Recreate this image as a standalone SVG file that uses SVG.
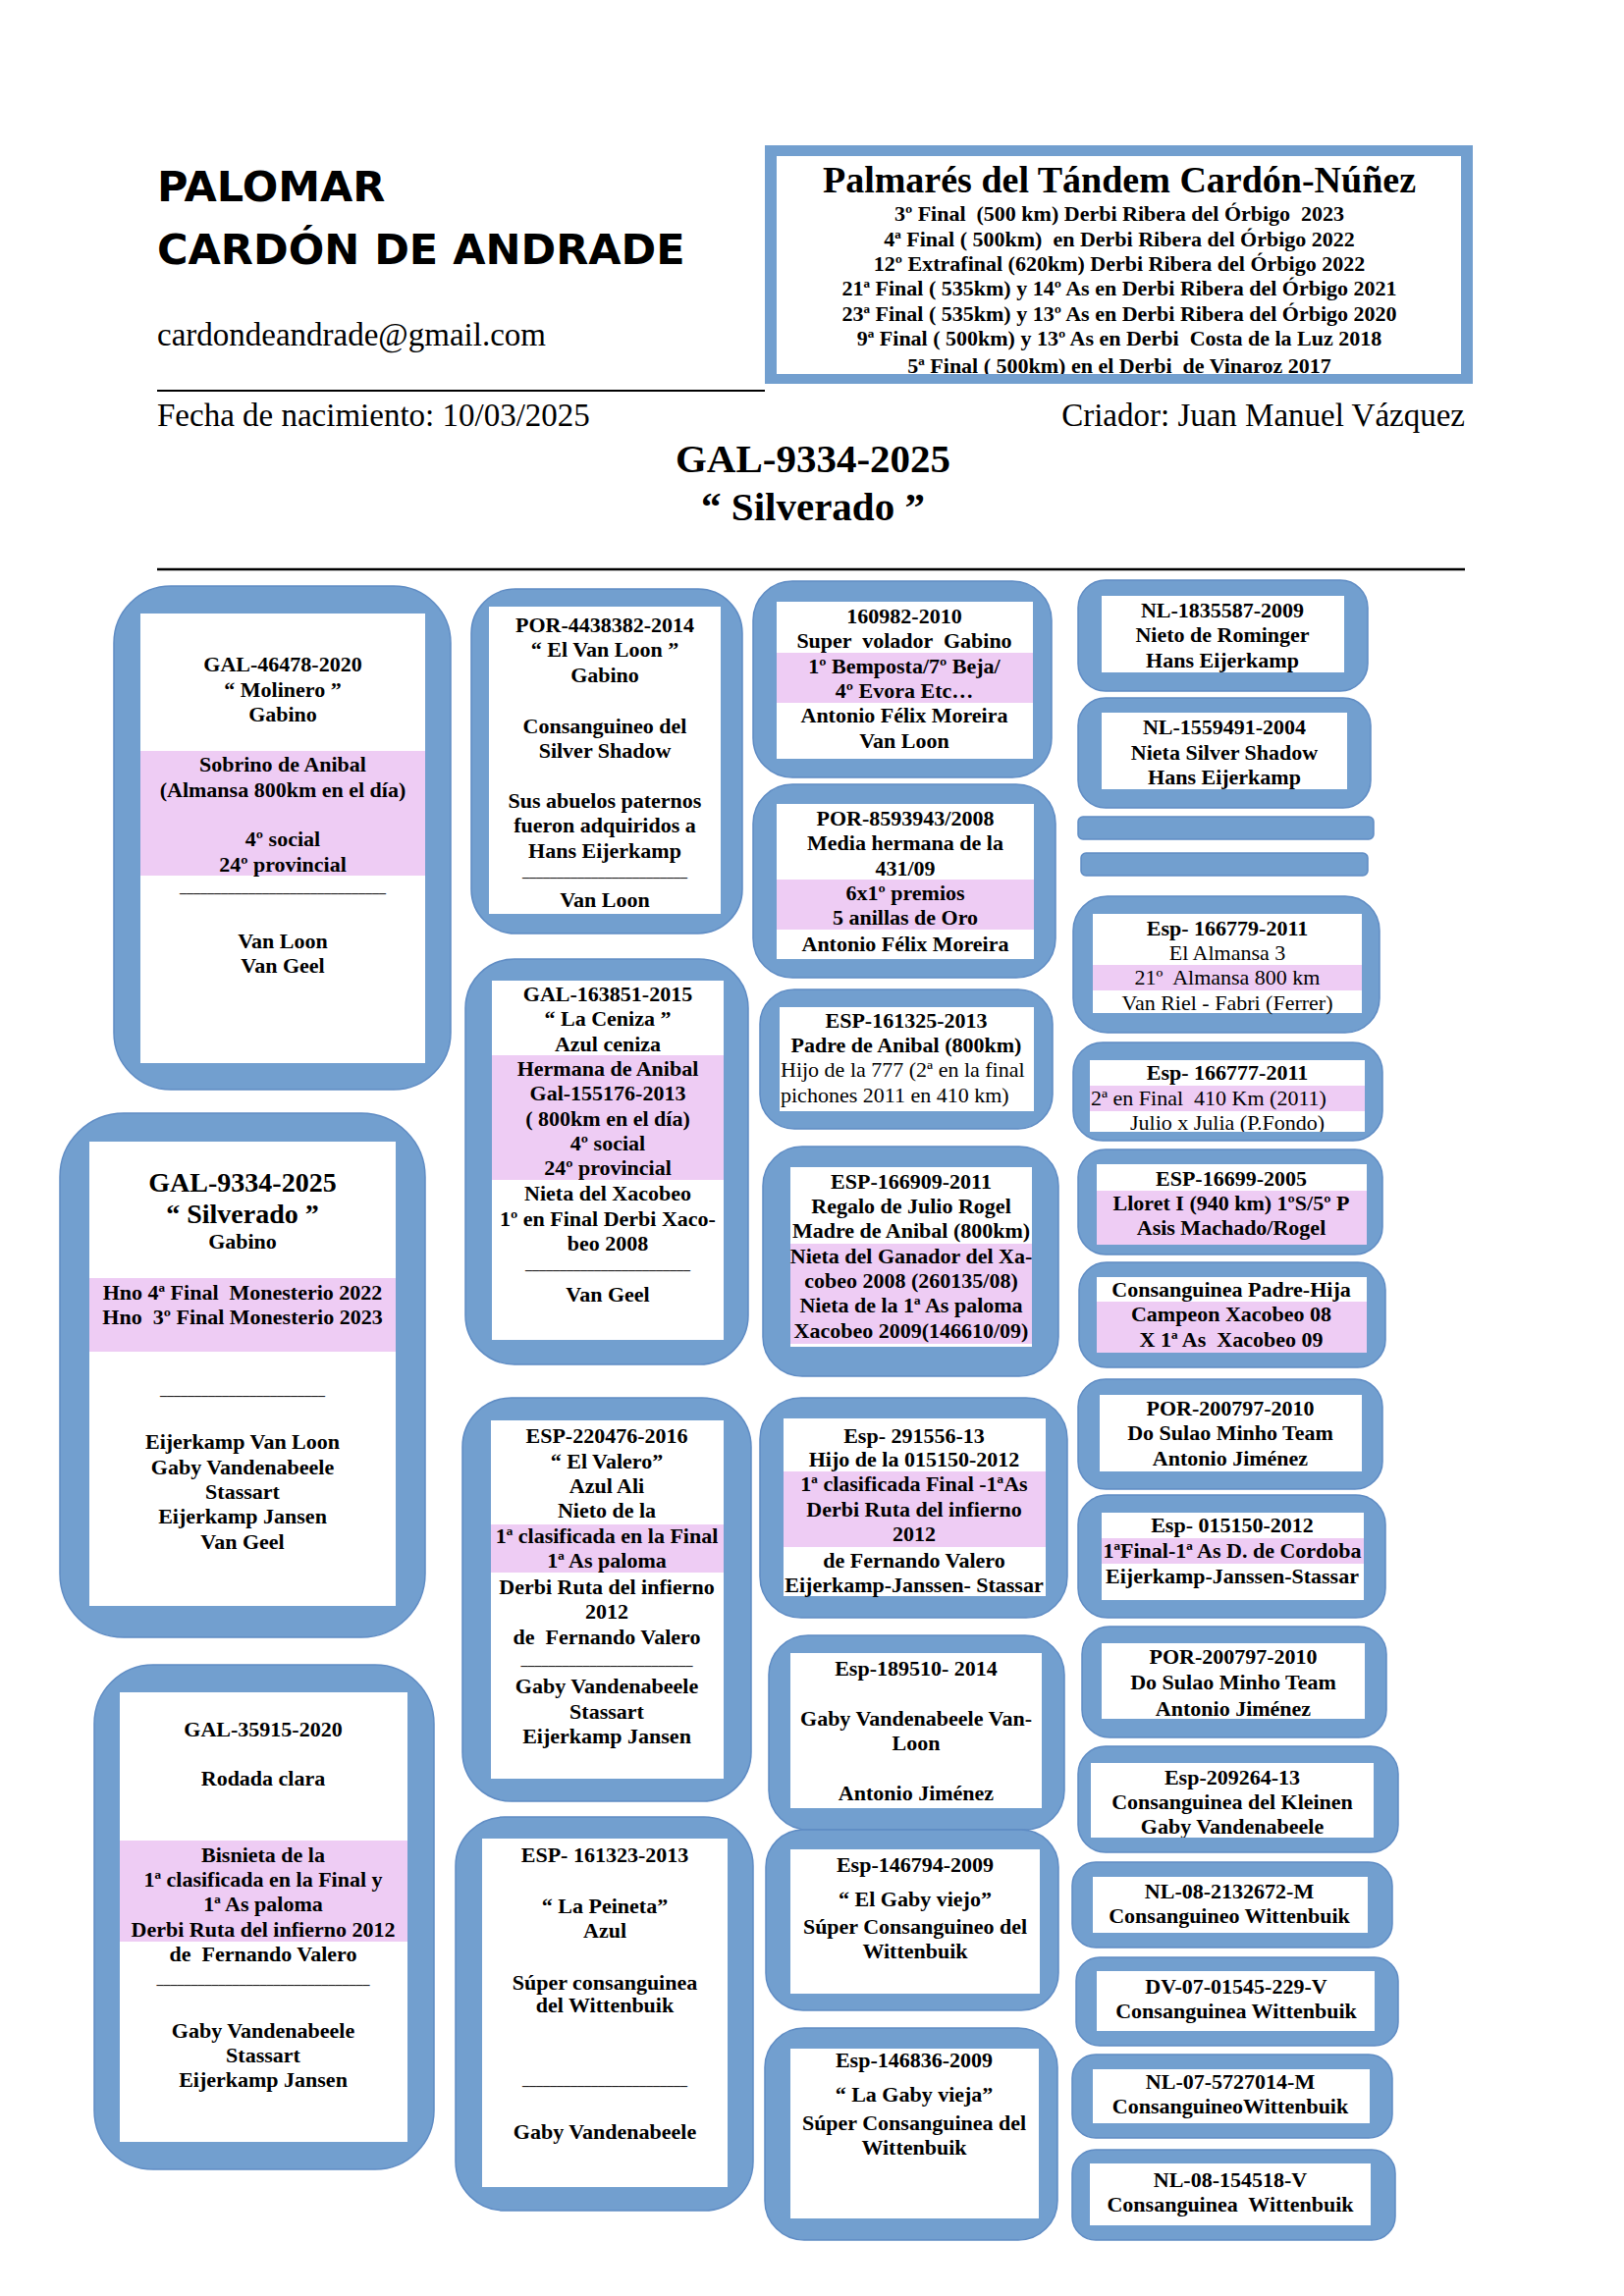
<svg xmlns="http://www.w3.org/2000/svg" width="1654" height="2339" viewBox="0 0 1654 2339">
<style>
.ob{fill:#729fcf;stroke:#5f8cc4;stroke-width:1.5}
.in{fill:#ffffff}
.pk{fill:#eeccf4}
.t{font-family:"Liberation Serif","Times New Roman",serif;font-weight:bold;font-size:22px;text-anchor:middle;fill:#000;white-space:pre}
.r{font-weight:normal}
.l{text-anchor:start}
.big{font-size:28px}
.u{font-size:14px;fill:#222}
.hd{font-family:"DejaVu Sans","Liberation Sans",sans-serif;font-weight:bold;font-size:43px;fill:#000}
.sr{font-family:"Liberation Serif","Times New Roman",serif;font-size:33px;fill:#000;white-space:pre}
</style>
<defs>
<clipPath id="cp-palm"><rect x="791" y="159" width="697" height="222"/></clipPath>
<clipPath id="cp-n21"><rect x="1110" y="1080" width="280" height="73"/></clipPath>
<clipPath id="cp-n27"><rect x="1111" y="1796" width="288" height="76"/></clipPath>
</defs>
<rect width="1654" height="2339" fill="#fff"/>

<g id="header">
<text class="hd" x="160" y="205">PALOMAR</text>
<text class="hd" x="160" y="269">CARDÓN DE ANDRADE</text>
<text class="sr" x="160" y="352">cardondeandrade@gmail.com</text>
<line x1="160" y1="398" x2="779" y2="398" stroke="#000" stroke-width="2"/>
<text class="sr" x="160" y="434">Fecha de nacimiento: 10/03/2025</text>
<text class="sr" x="1492" y="434" text-anchor="end">Criador: Juan Manuel Vázquez</text>
<text class="t" x="828" y="481" style="font-size:41px">GAL-9334-2025</text>
<text class="t" x="828" y="530" style="font-size:41px">“ Silverado ”</text>
<line x1="160" y1="580" x2="1492" y2="580" stroke="#000" stroke-width="2.5"/>
</g>

<g id="palmares">
<rect x="779" y="148" width="721" height="243" fill="#729fcf"/>
<rect x="791" y="159" width="697" height="222" fill="#fff"/>
<g clip-path="url(#cp-palm)">
<text class="t" x="1140" y="196" style="font-size:38px">Palmarés del Tándem Cardón-Núñez</text>
<text class="t" x="1140" y="225">3º Final  (500 km) Derbi Ribera del Órbigo  2023</text>
<text class="t" x="1140" y="251">4ª Final ( 500km)  en Derbi Ribera del Órbigo 2022</text>
<text class="t" x="1140" y="276">12º Extrafinal (620km) Derbi Ribera del Órbigo 2022</text>
<text class="t" x="1140" y="301">21ª Final ( 535km) y 14º As en Derbi Ribera del Órbigo 2021</text>
<text class="t" x="1140" y="327">23ª Final ( 535km) y 13º As en Derbi Ribera del Órbigo 2020</text>
<text class="t" x="1140" y="352">9ª Final ( 500km) y 13º As en Derbi  Costa de la Luz 2018</text>
<text class="t" x="1140" y="380">5ª Final ( 500km) en el Derbi  de Vinaroz 2017</text>
</g>
</g>

<g id="n-gal46478">
<rect class="ob" x="116" y="597" width="343" height="513" rx="58"/>
<rect class="in" x="143" y="625" width="290" height="458"/>
<rect class="pk" x="143" y="765" width="290" height="127"/>
<text class="t" x="288" y="684">GAL-46478-2020</text>
<text class="t" x="288" y="710">“ Molinero ”</text>
<text class="t" x="288" y="735">Gabino</text>
<text class="t" x="288" y="786">Sobrino de Anibal</text>
<text class="t" x="288" y="812">(Almansa 800km en el día)</text>
<text class="t" x="288" y="862">4º social</text>
<text class="t" x="288" y="888">24º provincial</text>
<text class="t u" x="288" y="909">______________________________</text>
<text class="t" x="288" y="966">Van Loon</text>
<text class="t" x="288" y="991">Van Geel</text>
</g>

<g id="n-gal9334">
<rect class="ob" x="61" y="1134" width="372" height="534" rx="65"/>
<rect class="in" x="91" y="1163" width="312" height="473"/>
<rect class="pk" x="91" y="1302" width="312" height="75"/>
<text class="t big" x="247" y="1214">GAL-9334-2025</text>
<text class="t big" x="247" y="1246">“ Silverado ”</text>
<text class="t" x="247" y="1272">Gabino</text>
<text class="t" x="247" y="1324">Hno 4ª Final  Monesterio 2022</text>
<text class="t" x="247" y="1349">Hno  3º Final Monesterio 2023</text>
<text class="t u" x="247" y="1421">________________________</text>
<text class="t" x="247" y="1476">Eijerkamp Van Loon</text>
<text class="t" x="247" y="1502">Gaby Vandenabeele</text>
<text class="t" x="247" y="1527">Stassart</text>
<text class="t" x="247" y="1552">Eijerkamp Jansen</text>
<text class="t" x="247" y="1578">Van Geel</text>
</g>

<g id="n-gal35915">
<rect class="ob" x="96" y="1696" width="346" height="514" rx="60"/>
<rect class="in" x="122" y="1724" width="293" height="458"/>
<rect class="pk" x="122" y="1875" width="293" height="103"/>
<text class="t" x="268" y="1769">GAL-35915-2020</text>
<text class="t" x="268" y="1819">Rodada clara</text>
<text class="t" x="268" y="1897">Bisnieta de la</text>
<text class="t" x="268" y="1922">1ª clasificada en la Final y</text>
<text class="t" x="268" y="1947">1ª As paloma</text>
<text class="t" x="268" y="1973">Derbi Ruta del infierno 2012</text>
<text class="t" x="268" y="1998">de  Fernando Valero</text>
<text class="t u" x="268" y="2021">_______________________________</text>
<text class="t" x="268" y="2076">Gaby Vandenabeele</text>
<text class="t" x="268" y="2101">Stassart</text>
<text class="t" x="268" y="2126">Eijerkamp Jansen</text>
</g>

<g id="n-por4438382">
<rect class="ob" x="480" y="600" width="276" height="351" rx="45"/>
<rect class="in" x="498" y="618" width="236" height="313"/>
<text class="t" x="616" y="644">POR-4438382-2014</text>
<text class="t" x="616" y="669">“ El Van Loon ”</text>
<text class="t" x="616" y="695">Gabino</text>
<text class="t" x="616" y="747">Consanguineo del</text>
<text class="t" x="616" y="772">Silver Shadow</text>
<text class="t" x="616" y="823">Sus abuelos paternos</text>
<text class="t" x="616" y="848">fueron adquiridos a</text>
<text class="t" x="616" y="874">Hans Eijerkamp</text>
<text class="t u" x="616" y="893">________________________</text>
<text class="t" x="616" y="924">Van Loon</text>
</g>

<g id="n-gal163851">
<rect class="ob" x="474" y="977" width="288" height="413" rx="50"/>
<rect class="in" x="501" y="999" width="236" height="366"/>
<rect class="pk" x="501" y="1075" width="236" height="127"/>
<text class="t" x="619" y="1020">GAL-163851-2015</text>
<text class="t" x="619" y="1045">“ La Ceniza ”</text>
<text class="t" x="619" y="1071">Azul ceniza</text>
<text class="t" x="619" y="1096">Hermana de Anibal</text>
<text class="t" x="619" y="1121">Gal-155176-2013</text>
<text class="t" x="619" y="1147">( 800km en el día)</text>
<text class="t" x="619" y="1172">4º social</text>
<text class="t" x="619" y="1197">24º provincial</text>
<text class="t" x="619" y="1223">Nieta del Xacobeo</text>
<text class="t" x="619" y="1249">1º en Final Derbi Xaco-</text>
<text class="t" x="619" y="1274">beo 2008</text>
<text class="t u" x="619" y="1293">________________________</text>
<text class="t" x="619" y="1326">Van Geel</text>
</g>

<g id="n-esp220476">
<rect class="ob" x="471" y="1424" width="294" height="411" rx="50"/>
<rect class="in" x="500" y="1447" width="237" height="365"/>
<rect class="pk" x="500" y="1553" width="237" height="49"/>
<text class="t" x="618" y="1470">ESP-220476-2016</text>
<text class="t" x="618" y="1496">“ El Valero”</text>
<text class="t" x="618" y="1521">Azul Ali</text>
<text class="t" x="618" y="1546">Nieto de la</text>
<text class="t" x="618" y="1572">1ª clasificada en la Final</text>
<text class="t" x="618" y="1597">1ª As paloma</text>
<text class="t" x="618" y="1624">Derbi Ruta del infierno</text>
<text class="t" x="618" y="1649">2012</text>
<text class="t" x="618" y="1675">de  Fernando Valero</text>
<text class="t u" x="618" y="1696">_________________________</text>
<text class="t" x="618" y="1725">Gaby Vandenabeele</text>
<text class="t" x="618" y="1751">Stassart</text>
<text class="t" x="618" y="1776">Eijerkamp Jansen</text>
</g>

<g id="n-esp161323">
<rect class="ob" x="464" y="1851" width="303" height="401" rx="50"/>
<rect class="in" x="491" y="1873" width="250" height="355"/>
<text class="t" x="616" y="1897">ESP- 161323-2013</text>
<text class="t" x="616" y="1949">“ La Peineta”</text>
<text class="t" x="616" y="1974">Azul</text>
<text class="t" x="616" y="2027">Súper consanguinea</text>
<text class="t" x="616" y="2050">del Wittenbuik</text>
<text class="t u" x="616" y="2124">________________________</text>
<text class="t" x="616" y="2179">Gaby Vandenabeele</text>
</g>

<g id="n-160982">
<rect class="ob" x="767" y="592" width="304" height="200" rx="40"/>
<rect class="in" x="791" y="613" width="261" height="160"/>
<rect class="pk" x="791" y="665" width="261" height="51"/>
<text class="t" x="921" y="635">160982-2010</text>
<text class="t" x="921" y="660">Super  volador  Gabino</text>
<text class="t" x="921" y="686">1º Bemposta/7º Beja/</text>
<text class="t" x="921" y="711">4º Evora Etc…</text>
<text class="t" x="921" y="736">Antonio Félix Moreira</text>
<text class="t" x="921" y="762">Van Loon</text>
</g>

<g id="n-por8593943">
<rect class="ob" x="767" y="799" width="308" height="197" rx="40"/>
<rect class="in" x="791" y="819" width="262" height="158"/>
<rect class="pk" x="791" y="896" width="262" height="51"/>
<text class="t" x="922" y="841">POR-8593943/2008</text>
<text class="t" x="922" y="866">Media hermana de la</text>
<text class="t" x="922" y="892">431/09</text>
<text class="t" x="922" y="917">6x1º premios</text>
<text class="t" x="922" y="942">5 anillas de Oro</text>
<text class="t" x="922" y="969">Antonio Félix Moreira</text>
</g>

<g id="n-esp161325">
<rect class="ob" x="774" y="1008" width="298" height="142" rx="35"/>
<rect class="in" x="794" y="1026" width="259" height="106"/>
<text class="t" x="923" y="1047">ESP-161325-2013</text>
<text class="t" x="923" y="1072">Padre de Anibal (800km)</text>
<text class="t r l" x="795" y="1097">Hijo de la 777 (2ª en la final</text>
<text class="t r l" x="795" y="1123">pichones 2011 en 410 km)</text>
</g>

<g id="n-esp166909">
<rect class="ob" x="777" y="1168" width="301" height="234" rx="40"/>
<rect class="in" x="805" y="1189" width="246" height="183"/>
<rect class="pk" x="805" y="1267" width="246" height="102"/>
<text class="t" x="928" y="1211">ESP-166909-2011</text>
<text class="t" x="928" y="1236">Regalo de Julio Rogel</text>
<text class="t" x="928" y="1261">Madre de Anibal (800km)</text>
<text class="t" x="928" y="1287">Nieta del Ganador del Xa-</text>
<text class="t" x="928" y="1312">cobeo 2008 (260135/08)</text>
<text class="t" x="928" y="1337">Nieta de la 1ª As paloma</text>
<text class="t" x="928" y="1363">Xacobeo 2009(146610/09)</text>
</g>

<g id="n-esp291556">
<rect class="ob" x="774" y="1424" width="313" height="224" rx="42"/>
<rect class="in" x="798" y="1445" width="267" height="181"/>
<rect class="pk" x="798" y="1499" width="267" height="77"/>
<text class="t" x="931" y="1470">Esp- 291556-13</text>
<text class="t" x="931" y="1494">Hijo de la 015150-2012</text>
<text class="t" x="931" y="1519">1ª clasificada Final -1ªAs</text>
<text class="t" x="931" y="1545">Derbi Ruta del infierno</text>
<text class="t" x="931" y="1570">2012</text>
<text class="t" x="931" y="1597">de Fernando Valero</text>
<text class="t" x="931" y="1622">Eijerkamp-Janssen- Stassar</text>
</g>

<g id="n-esp189510">
<rect class="ob" x="783" y="1666" width="301" height="198" rx="40"/>
<rect class="in" x="805" y="1684" width="256" height="158"/>
<text class="t" x="933" y="1707">Esp-189510- 2014</text>
<text class="t" x="933" y="1758">Gaby Vandenabeele Van-</text>
<text class="t" x="933" y="1783">Loon</text>
<text class="t" x="933" y="1834">Antonio Jiménez</text>
</g>

<g id="n-esp146794">
<rect class="ob" x="780" y="1864" width="298" height="184" rx="38"/>
<rect class="in" x="805" y="1884" width="254" height="147"/>
<text class="t" x="932" y="1907">Esp-146794-2009</text>
<text class="t" x="932" y="1942">“ El Gaby viejo”</text>
<text class="t" x="932" y="1970">Súper Consanguineo del</text>
<text class="t" x="932" y="1995">Wittenbuik</text>
</g>

<g id="n-esp146836">
<rect class="ob" x="779" y="2066" width="298" height="216" rx="40"/>
<rect class="in" x="805" y="2087" width="253" height="173"/>
<text class="t" x="931" y="2106">Esp-146836-2009</text>
<text class="t" x="931" y="2141">“ La Gaby vieja”</text>
<text class="t" x="931" y="2170">Súper Consanguinea del</text>
<text class="t" x="931" y="2195">Wittenbuik</text>
</g>

<g id="n-nl1835587">
<rect class="ob" x="1098" y="591" width="295" height="113" rx="28"/>
<rect class="in" x="1122" y="607" width="247" height="78"/>
<text class="t" x="1245" y="629">NL-1835587-2009</text>
<text class="t" x="1245" y="654">Nieto de Rominger</text>
<text class="t" x="1245" y="680">Hans Eijerkamp</text>
</g>

<g id="n-nl1559491">
<rect class="ob" x="1098" y="711" width="298" height="112" rx="28"/>
<rect class="in" x="1122" y="726" width="250" height="78"/>
<text class="t" x="1247" y="748">NL-1559491-2004</text>
<text class="t" x="1247" y="774">Nieta Silver Shadow</text>
<text class="t" x="1247" y="799">Hans Eijerkamp</text>
</g>

<g id="n-empty-1">
<rect class="ob" x="1098" y="832" width="301" height="23" rx="5"/>
</g>
<g id="n-empty-2">
<rect class="ob" x="1101" y="869" width="292" height="23" rx="5"/>
</g>

<g id="n-esp166779">
<rect class="ob" x="1093" y="913" width="312" height="139" rx="35"/>
<rect class="in" x="1113" y="931" width="274" height="101"/>
<rect class="pk" x="1113" y="983" width="274" height="26"/>
<text class="t" x="1250" y="953">Esp- 166779-2011</text>
<text class="t r" x="1250" y="978">El Almansa 3</text>
<text class="t r" x="1250" y="1003">21º  Almansa 800 km</text>
<text class="t r" x="1250" y="1029">Van Riel - Fabri (Ferrer)</text>
</g>

<g id="n-esp166777">
<rect class="ob" x="1093" y="1062" width="315" height="100" rx="30"/>
<rect class="in" x="1110" y="1080" width="280" height="73"/>
<rect class="pk" x="1110" y="1106" width="280" height="26"/>
<g clip-path="url(#cp-n21)">
<text class="t" x="1250" y="1100">Esp- 166777-2011</text>
<text class="t r l" x="1111" y="1126">2ª en Final  410 Km (2011)</text>
<text class="t r" x="1250" y="1151">Julio x Julia (P.Fondo)</text>
</g>
</g>

<g id="n-esp16699">
<rect class="ob" x="1098" y="1171" width="310" height="107" rx="28"/>
<rect class="in" x="1117" y="1186" width="275" height="82"/>
<rect class="pk" x="1117" y="1213" width="275" height="55"/>
<text class="t" x="1254" y="1208">ESP-16699-2005</text>
<text class="t" x="1254" y="1233">Lloret I (940 km) 1ºS/5º P</text>
<text class="t" x="1254" y="1258">Asis Machado/Rogel</text>
</g>

<g id="n-consanguinea-padre-hija">
<rect class="ob" x="1099" y="1286" width="312" height="107" rx="28"/>
<rect class="in" x="1117" y="1301" width="275" height="77"/>
<rect class="pk" x="1117" y="1326" width="275" height="52"/>
<text class="t" x="1254" y="1321">Consanguinea Padre-Hija</text>
<text class="t" x="1254" y="1346">Campeon Xacobeo 08</text>
<text class="t" x="1254" y="1372">X 1ª As  Xacobeo 09</text>
</g>

<g id="n-por200797-a">
<rect class="ob" x="1098" y="1405" width="310" height="112" rx="28"/>
<rect class="in" x="1120" y="1421" width="267" height="78"/>
<text class="t" x="1253" y="1442">POR-200797-2010</text>
<text class="t" x="1253" y="1467">Do Sulao Minho Team</text>
<text class="t" x="1253" y="1493">Antonio Jiménez</text>
</g>

<g id="n-esp015150">
<rect class="ob" x="1098" y="1523" width="313" height="125" rx="30"/>
<rect class="in" x="1122" y="1541" width="267" height="89"/>
<rect class="pk" x="1122" y="1567" width="267" height="26"/>
<text class="t" x="1255" y="1561">Esp- 015150-2012</text>
<text class="t" x="1255" y="1587">1ªFinal-1ª As D. de Cordoba</text>
<text class="t" x="1255" y="1613">Eijerkamp-Janssen-Stassar</text>
</g>

<g id="n-por200797-b">
<rect class="ob" x="1102" y="1657" width="310" height="113" rx="28"/>
<rect class="in" x="1122" y="1674" width="268" height="77"/>
<text class="t" x="1256" y="1695">POR-200797-2010</text>
<text class="t" x="1256" y="1721">Do Sulao Minho Team</text>
<text class="t" x="1256" y="1748">Antonio Jiménez</text>
</g>

<g id="n-esp209264">
<rect class="ob" x="1098" y="1779" width="326" height="108" rx="28"/>
<rect class="in" x="1111" y="1796" width="288" height="76"/>
<g clip-path="url(#cp-n27)">
<text class="t" x="1255" y="1818">Esp-209264-13</text>
<text class="t" x="1255" y="1843">Consanguinea del Kleinen</text>
<text class="t" x="1255" y="1868">Gaby Vandenabeele</text>
</g>
</g>

<g id="n-nl2132672">
<rect class="ob" x="1092" y="1897" width="326" height="87" rx="24"/>
<rect class="in" x="1113" y="1912" width="280" height="57"/>
<text class="t" x="1252" y="1934">NL-08-2132672-M</text>
<text class="t" x="1252" y="1959">Consanguineo Wittenbuik</text>
</g>

<g id="n-dv0701545">
<rect class="ob" x="1096" y="1994" width="328" height="90" rx="24"/>
<rect class="in" x="1117" y="2008" width="283" height="61"/>
<text class="t" x="1259" y="2031">DV-07-01545-229-V</text>
<text class="t" x="1259" y="2056">Consanguinea Wittenbuik</text>
</g>

<g id="n-nl5727014">
<rect class="ob" x="1092" y="2093" width="326" height="85" rx="24"/>
<rect class="in" x="1113" y="2108" width="282" height="55"/>
<text class="t" x="1253" y="2128">NL-07-5727014-M</text>
<text class="t" x="1253" y="2153">ConsanguineoWittenbuik</text>
</g>

<g id="n-nl154518">
<rect class="ob" x="1092" y="2190" width="329" height="92" rx="24"/>
<rect class="in" x="1110" y="2204" width="286" height="63"/>
<text class="t" x="1253" y="2228">NL-08-154518-V</text>
<text class="t" x="1253" y="2253">Consanguinea  Wittenbuik</text>
</g>
</svg>
